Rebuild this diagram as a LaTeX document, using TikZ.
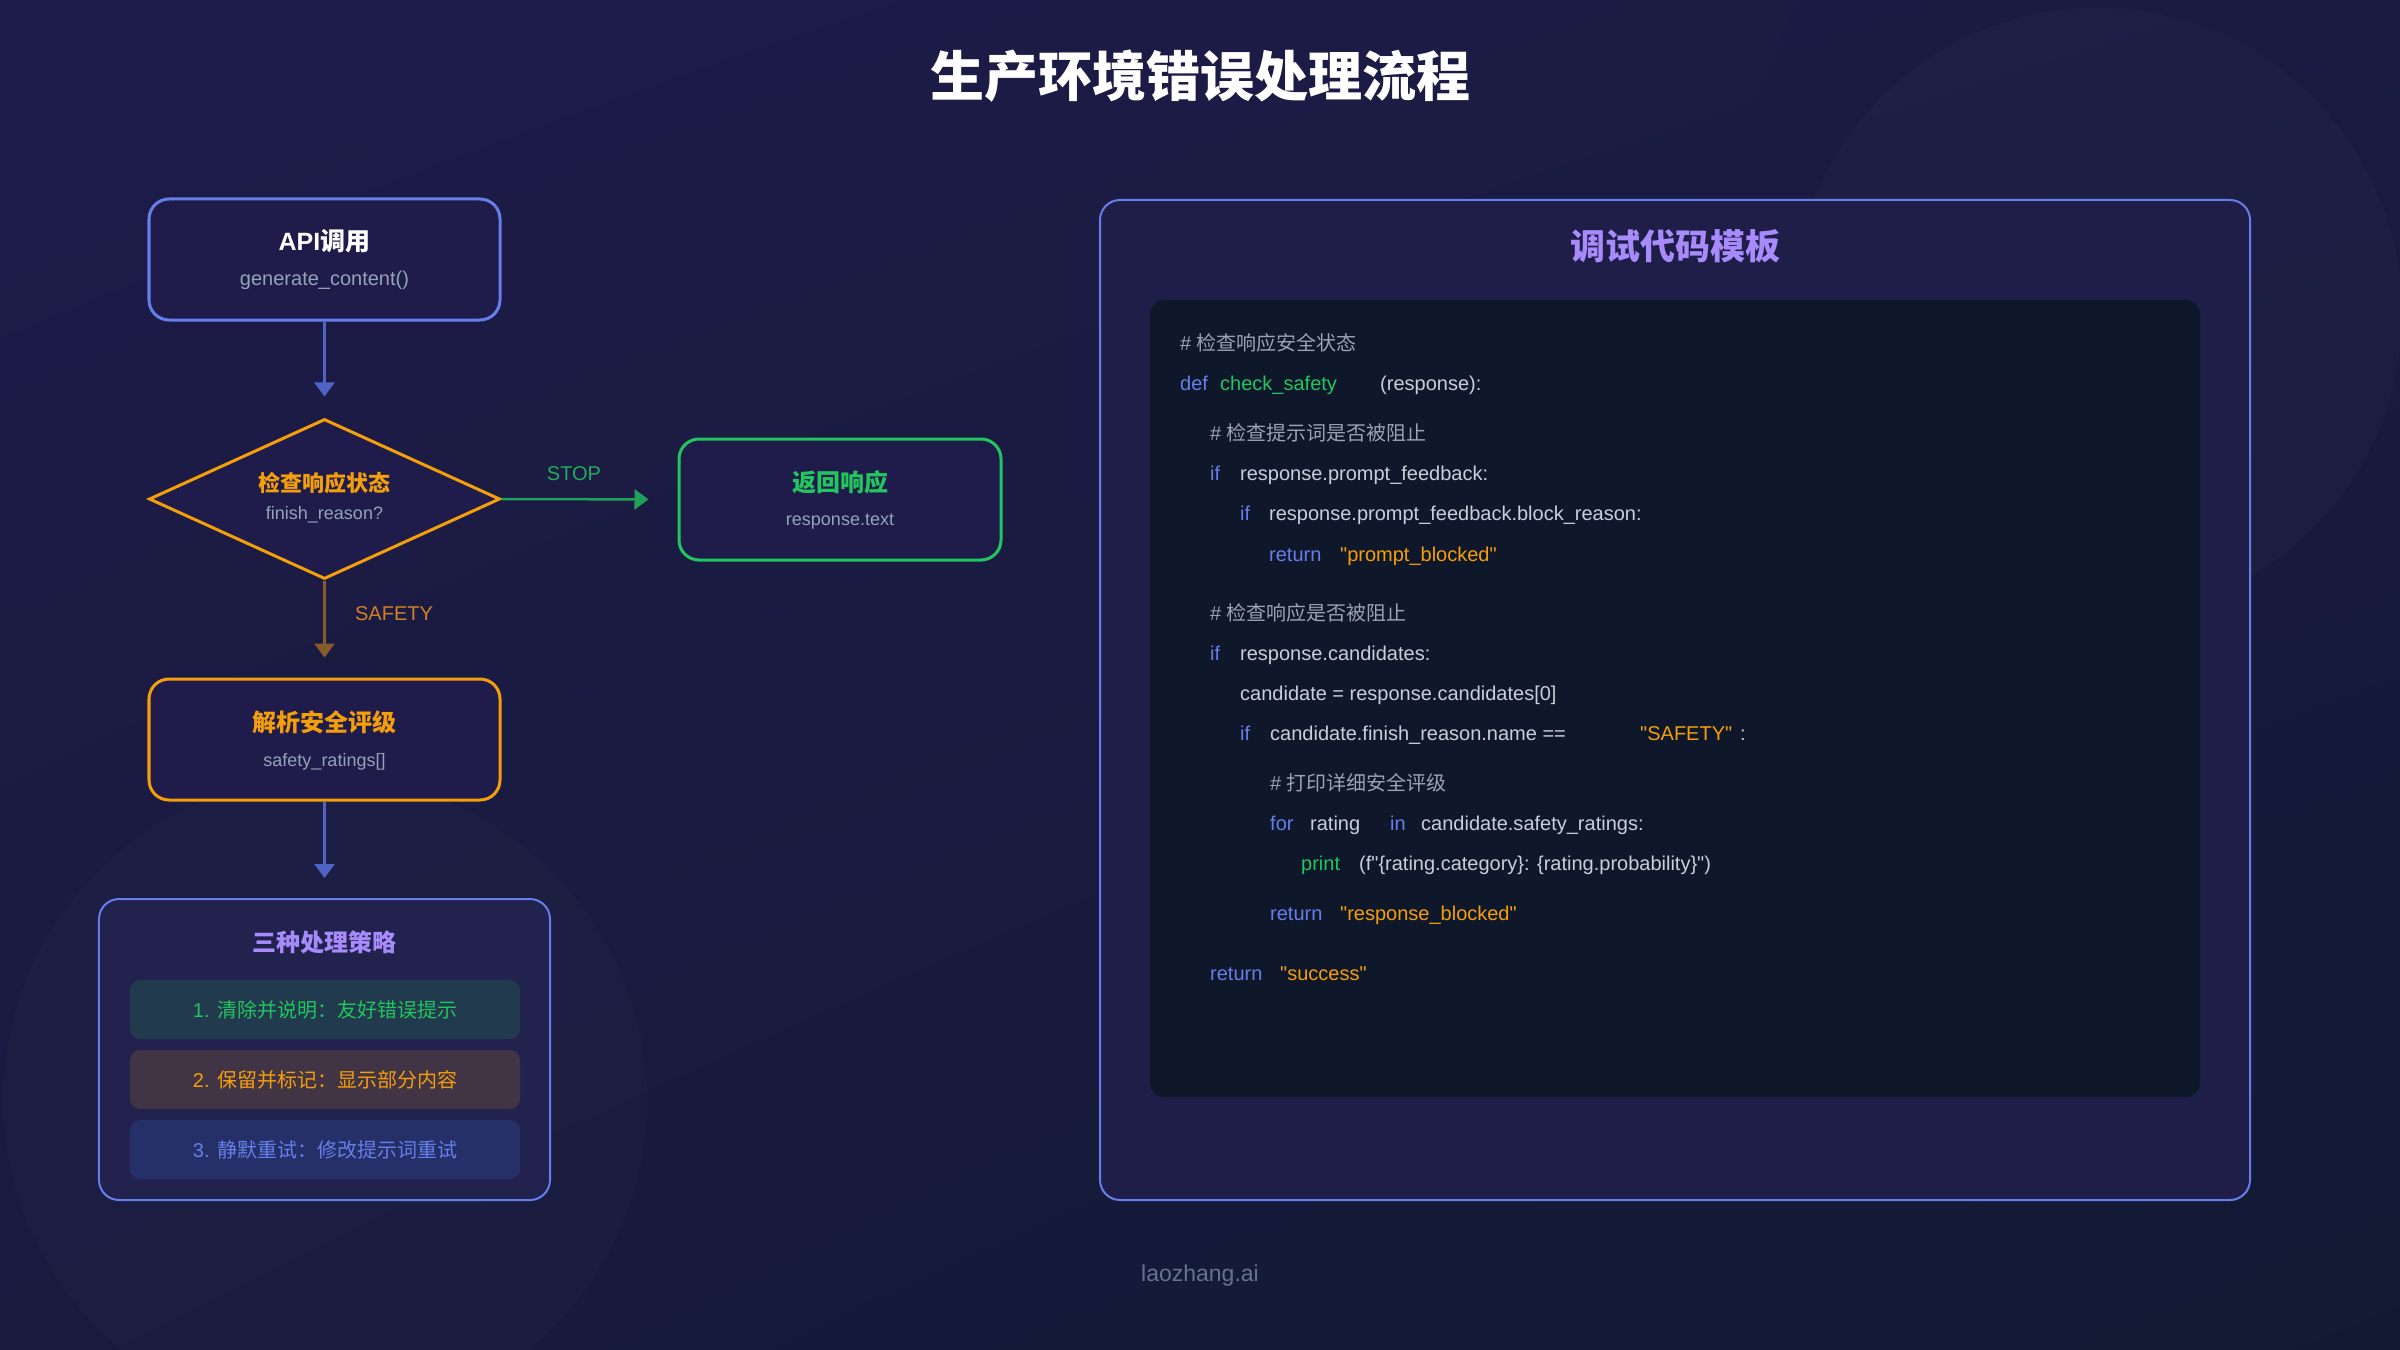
\documentclass[tikz,border=0pt]{standalone}
\usepackage{fontspec}
\setmainfont{Liberation Sans}[Ligatures=TeXOff]
\newfontfamily\cjk{Noto Sans CJK SC}
\usetikzlibrary{arrows.meta,shapes.geometric,shadings}
\newcommand\fsz[1]{\fontsize{#1bp}{#1bp}\selectfont}
\definecolor{bgTL}{HTML}{1E1C4A}
\definecolor{bgTR}{HTML}{1A1A42}
\definecolor{bgBL}{HTML}{181A3E}
\definecolor{bgBR}{HTML}{121A33}
\definecolor{boxfill}{HTML}{1F1C4B}
\definecolor{stratfill}{HTML}{22224F}
\definecolor{panelfill}{HTML}{1E1E49}
\definecolor{codefill}{HTML}{0F172A}
\definecolor{cblue}{HTML}{667EEA}
\definecolor{cgreen}{HTML}{22C55E}
\definecolor{corange}{HTML}{F59E0B}
\definecolor{cpurple}{HTML}{A78BFA}
\definecolor{subgray}{HTML}{94A3B8}
\definecolor{footgray}{HTML}{64748B}
\definecolor{codetext}{HTML}{C8CFDC}
\definecolor{codecm}{HTML}{9AA3B5}
\definecolor{itAfill}{HTML}{213A4D}
\definecolor{itBfill}{HTML}{413445}
\definecolor{itCfill}{HTML}{263068}
\definecolor{arrblue}{HTML}{4F63C6}
\definecolor{arrgreen}{HTML}{21A05A}
\definecolor{arrbrown}{HTML}{885C28}
\definecolor{safetylbl}{HTML}{D27F22}
\tikzset{
  nbox/.style={draw, line width=3bp, fill=boxfill, rounded corners=20bp, minimum width=351bp, minimum height=121bp, inner sep=0},
  lbl/.style={anchor=base, inner sep=0},
  codetok/.style={anchor=base west, inner sep=0, font=\fsz{20}},
  ckw/.style={codetok, text=cblue},
  cfn/.style={codetok, text=cgreen},
  cst/.style={codetok, text=corange},
  ctx/.style={codetok, text=codetext},
  ccm/.style={codetok, text=codecm},
  arr/.style={-{Triangle[width=20bp,length=14bp]}, line width=2.5bp},
  itembox/.style={rounded corners=10bp, minimum width=390bp, minimum height=59bp, inner sep=0, font=\fsz{20}},
}
\begin{document}
\begin{tikzpicture}[x=1bp,y=-1bp]
\useasboundingbox (0,0) rectangle (2400,1350);
\shade[upper left=bgTL, upper right=bgTR, lower left=bgBL, lower right=bgBR] (0,0) rectangle (2400,1350);
\fill[white, opacity=0.02] (2097,313) circle (305);
\fill[white, opacity=0.014] (325,1100) circle (322);

% title
\node[lbl, text=white, font=\fsz{54}\cjk\bfseries] (title) at (1200,97) {生产环境错误处理流程};

% API box
\node[nbox, draw=cblue] (api) at (324.5,259.5) {};
\node[lbl, text=white, font=\fsz{25}\bfseries] (apit) at (324.5,251) {API{\cjk 调用}};
\node[lbl, text=subgray, font=\fsz{20}] (apis) at (324.5,286) {generate\_content()};

% diamond
\node[diamond, draw=corange, line width=3bp, fill=boxfill, minimum width=351bp, minimum height=160bp, inner sep=0] (diam) at (324.5,499) {};
\node[lbl, text=corange, font=\fsz{22}\cjk\bfseries] (diamt) at (324.5,491) {检查响应状态};
\node[lbl, text=subgray, font=\fsz{18}] (diams) at (324.5,519) {finish\_reason?};

% return box
\node[nbox, draw=cgreen, minimum width=322bp] (ret) at (840,499.5) {};
\node[lbl, text=cgreen, font=\fsz{24}\cjk\bfseries] (rett) at (840,491) {返回响应};
\node[lbl, text=subgray, font=\fsz{18}] (rets) at (840,525) {response.text};

% safety box
\node[nbox, draw=corange] (safe) at (324.5,739.5) {};
\node[lbl, text=corange, font=\fsz{24}\cjk\bfseries] (safet) at (324.5,731) {解析安全评级};
\node[lbl, text=subgray, font=\fsz{18}] (safes) at (324.5,766) {safety\_ratings[]};

% strategy box
\node[draw=cblue, line width=2bp, fill=stratfill, rounded corners=20bp, minimum width=451bp, minimum height=301bp, inner sep=0] (strat) at (324.5,1049.5) {};
\node[lbl, text=cpurple, font=\fsz{24}\cjk\bfseries] (stratt) at (324.5,951) {三种处理策略};
\node[itembox, fill=itAfill, text=cgreen] (it1) at (325,1009.5) {1. {\cjk 清除并说明：友好错误提示}};
\node[itembox, fill=itBfill, text=corange] (it2) at (325,1079.5) {2. {\cjk 保留并标记：显示部分内容}};
\node[itembox, fill=itCfill, text=cblue] (it3) at (325,1149.5) {3. {\cjk 静默重试：修改提示词重试}};

% arrows
\draw[arr, draw=arrblue, shorten >=21bp] (api.south) -- (diam.north);
\draw[arr, draw=arrgreen, shorten >=29bp] (diam.east) -- (ret.west);
\draw[arr, draw=arrbrown, shorten >=20bp] (diam.south) -- (safe.north);
\draw[arr, draw=arrblue, shorten >=20bp] (safe.south) -- (strat.north);
\node[lbl, text=arrgreen!70!cgreen, font=\fsz{20}] (stop) at (574,480) {STOP};
\node[lbl, text=safetylbl, font=\fsz{20}] (safety) at (394,620) {SAFETY};

% code panel
\node[draw=cblue, line width=2bp, fill=panelfill, rounded corners=20bp, minimum width=1150bp, minimum height=1000bp, inner sep=0] (panel) at (1675,700) {};
\node[lbl, text=cpurple, font=\fsz{35}\cjk\bfseries] (panelt) at (1675,260) {调试代码模板};
\node[fill=codefill, rounded corners=14bp, minimum width=1050bp, minimum height=797bp, inner sep=0] (codebox) at (1675,698.5) {};

\node[ccm] (l1) at (1180,350) {\# {\cjk 检查响应安全状态}};
\node[ckw] (l2a) at (1180,390) {def};
\node[cfn] (l2b) at (1220,390) {check\_safety};
\node[ctx] (l2c) at (1380,390) {(response):};
\node[ccm] (l3) at (1210,440) {\# {\cjk 检查提示词是否被阻止}};
\node[ckw] (l4a) at (1210,480) {if};
\node[ctx] (l4b) at (1240,480) {response.prompt\_feedback:};
\node[ckw] (l5a) at (1240,520) {if};
\node[ctx] (l5b) at (1269,520) {response.prompt\_feedback.block\_reason:};
\node[ckw] (l6a) at (1269,561) {return};
\node[cst] (l6b) at (1340,561) {"prompt\_blocked"};
\node[ccm] (l7) at (1210,620) {\# {\cjk 检查响应是否被阻止}};
\node[ckw] (l8a) at (1210,660) {if};
\node[ctx] (l8b) at (1240,660) {response.candidates:};
\node[ctx] (l9) at (1240,700) {candidate = response.candidates[0]};
\node[ckw] (l10a) at (1240,740) {if};
\node[ctx] (l10b) at (1270,740) {candidate.finish\_reason.name ==};
\node[cst] (l10c) at (1640,740) {"SAFETY"};
\node[ctx] (l10d) at (1740,740) {:};
\node[ccm] (l11) at (1270,790) {\# {\cjk 打印详细安全评级}};
\node[ckw] (l12a) at (1270,830) {for};
\node[ctx] (l12b) at (1310,830) {rating};
\node[ckw] (l12c) at (1390,830) {in};
\node[ctx] (l12d) at (1421,830) {candidate.safety\_ratings:};
\node[cfn] (l13a) at (1301,870) {print};
\node[ctx] (l13b) at (1359,870) {(f"\{rating.category\}: \{rating.probability\}")};
\node[ckw] (l14a) at (1270,920) {return};
\node[cst] (l14b) at (1340,920) {"response\_blocked"};
\node[ckw] (l15a) at (1210,980) {return};
\node[cst] (l15b) at (1280,980) {"success"};

% footer
\node[lbl, text=footgray, font=\fsz{23}] (foot) at (1200,1281) {laozhang.ai};
\end{tikzpicture}
\end{document}
